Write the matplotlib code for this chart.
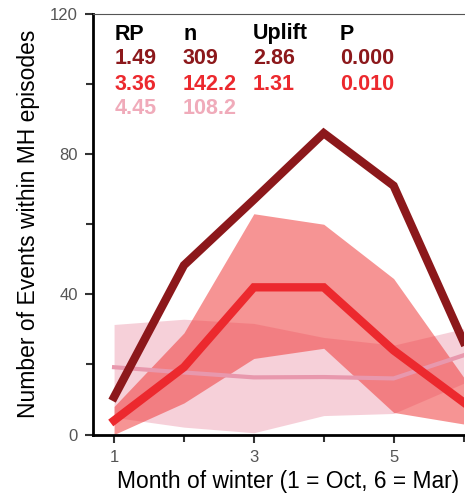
import matplotlib
matplotlib.use("Agg")
import matplotlib.pyplot as plt
from matplotlib.ticker import MultipleLocator

plt.rcParams['font.family'] = ['Liberation Sans', 'DejaVu Sans']

# Month of winter (1 = Oct ... 6 = Mar)
month = [1, 2, 3, 4, 5, 6]

# Mean number of events within MH episodes per return-period class
events_rp149 = [10.7, 48.3, 67.0, 86.0, 71.0, 26.5]
events_rp336 = [4.0, 19.2, 42.0, 42.0, 24.0, 9.2]
events_rp445 = [19.2, 17.7, 16.3, 16.4, 16.0, 22.6]

# Spread of the two lower classes
band_rp336_lo = [0.0, 9.0, 21.7, 24.6, 6.3, 3.0]
band_rp336_hi = [8.0, 29.0, 63.0, 60.0, 44.5, 16.4]
band_rp445_lo = [4.9, 2.1, 0.5, 5.4, 6.0, 14.6]
band_rp445_hi = [31.4, 32.9, 31.7, 27.7, 25.5, 30.2]

# Summary table
table_header = ["RP", "n", "Uplift", "P"]
table_rows = [
    ["1.49", "309", "2.86", "0.000"],
    ["3.36", "142.2", "1.31", "0.010"],
    ["4.45", "108.2", "", ""],
]

c_dark = "#8c181b"
c_red = "#ec292e"
c_pink = "#f0abba"

W, H = 465, 494
fig = plt.figure(figsize=(W / 100, H / 100), dpi=100)
ax_l, ax_r, ax_t, ax_b = 93, 463.5, 14, 434.5
ax = fig.add_axes([ax_l / W, 1 - ax_b / H, (ax_r - ax_l) / W, (ax_b - ax_t) / H])

ax.fill_between(month, band_rp445_lo, band_rp445_hi, color="#eea2b4", alpha=0.5, lw=0, zorder=1)
ax.fill_between(month, band_rp336_lo, band_rp336_hi, color="#f03c3c", alpha=0.55, lw=0, zorder=2)
ax.plot(month, events_rp445, color="#e898ad", lw=3.0, solid_joinstyle="miter", zorder=3)
ax.plot(month, events_rp336, color=c_red, lw=6.0, solid_joinstyle="miter", zorder=4)
ax.plot(month, events_rp149, color=c_dark, lw=6.0, solid_joinstyle="miter", zorder=5)

ax.set_xlim(1 - 21 / 69.7, 6)
ax.set_ylim(0, 120)
ax.set_xticks([1, 3, 5])
ax.set_xticks([2, 4, 6], minor=True)
ax.yaxis.set_major_locator(MultipleLocator(40))
ax.yaxis.set_minor_locator(MultipleLocator(20))

ax.spines['right'].set_visible(False)
ax.spines['top'].set_color("#555555")
ax.spines['top'].set_linewidth(0.8)
for s in ('left', 'bottom'):
    ax.spines[s].set_linewidth(2.0)
    ax.spines[s].set_color("black")

ax.tick_params(which='both', direction='out', color='#333333', width=1.5,
               labelcolor='#555555', labelsize=12)
ax.tick_params(which='major', length=6, pad=5)
ax.tick_params(which='minor', length=5)

ax.set_xlabel("Month of winter (1 = Oct, 6 = Mar)", fontsize=16.4, labelpad=5)
ax.xaxis.set_label_coords((288.5 - ax_l) / (ax_r - ax_l), -0.085)
ax.set_ylabel("Number of Events within MH episodes", fontsize=16.5, labelpad=7)

col_x = [(115 - ax_l) / (ax_r - ax_l), (183 - ax_l) / (ax_r - ax_l),
         (253 - ax_l) / (ax_r - ax_l), (340 - ax_l) / (ax_r - ax_l)]
row_y = [(ax_b - b) / (ax_b - ax_t) for b in (39.5, 64.5, 89.5, 114.5)]
row_colors = ["black", c_dark, c_red, c_pink]
for r, (cells, colr) in enumerate(zip([table_header] + table_rows, row_colors)):
    for cx, txt in zip(col_x, cells):
        ax.text(cx, row_y[r], txt, transform=ax.transAxes, color=colr,
                fontsize=15.5, fontweight='bold', va='baseline', ha='left')

fig.savefig("out.png", dpi=100)
